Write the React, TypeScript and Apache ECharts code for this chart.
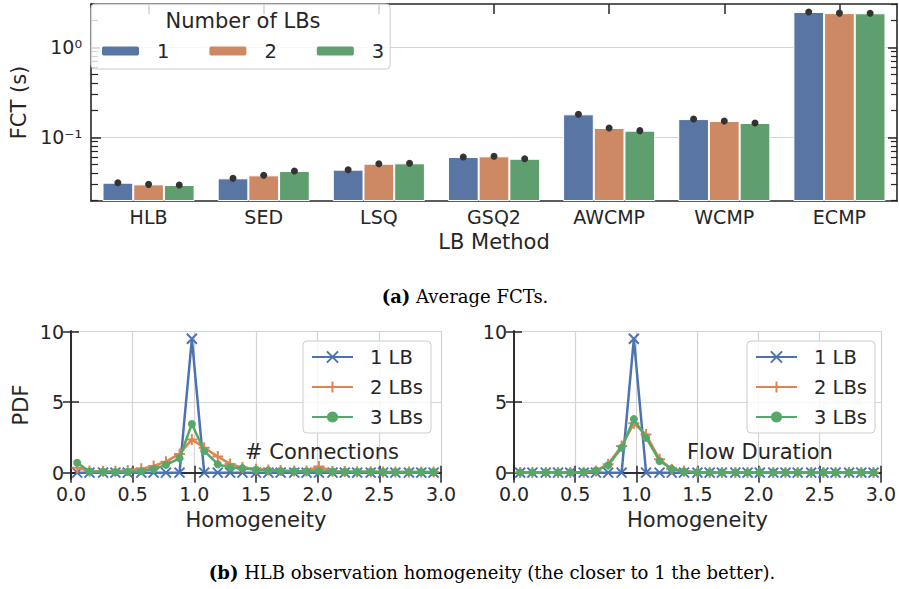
import React, { useEffect, useRef } from 'react';
import * as echarts from 'echarts';

// ---------- Data: (a) Average FCTs ----------
const methods = ['HLB', 'SED', 'LSQ', 'GSQ2', 'AWCMP', 'WCMP', 'ECMP'];
const lbNames = ['1', '2', '3'];
const fct1 = [0.0313, 0.035, 0.0437, 0.0604, 0.18, 0.1595, 2.47];
const fct2 = [0.03, 0.0378, 0.0509, 0.0615, 0.127, 0.152, 2.4];
const fct3 = [0.0295, 0.0422, 0.0514, 0.0578, 0.1186, 0.1445, 2.39];
const fctMin = 0.0196;
const fctMax = 3.03;
const fctMajorTicks = [0.1, 1];
const fctMinorTicks = [0.02, 0.03, 0.04, 0.05, 0.06, 0.07, 0.08, 0.09, 0.2, 0.3, 0.4, 0.5, 0.6, 0.7, 0.8, 0.9, 2, 3];

// ---------- Data: (b) homogeneity PDFs ----------
const homX = [0.05, 0.15, 0.26, 0.36, 0.46, 0.57, 0.67, 0.77, 0.88, 0.98, 1.08, 1.19, 1.29, 1.39, 1.5,
  1.6, 1.7, 1.81, 1.91, 2.01, 2.12, 2.22, 2.32, 2.43, 2.53, 2.63, 2.74, 2.84, 2.94];
const lineNames = ['1 LB', '2 LBs', '3 LBs'];
const conn1 = [0, 0, 0, 0, 0, 0, 0, 0, 0, 9.5, 0, 0, 0, 0, 0, 0, 0, 0, 0, 0, 0, 0, 0, 0, 0, 0, 0, 0, 0];
const conn2 = [0.35, 0.12, 0.1, 0.1, 0.15, 0.27, 0.47, 0.78, 1.33, 2.36, 1.77, 1.14, 0.62, 0.36, 0.25,
  0.18, 0.15, 0.12, 0.12, 0.43, 0.1, 0.08, 0.07, 0.06, 0.05, 0.05, 0.05, 0.05, 0.05];
const conn3 = [0.7, 0.08, 0.06, 0.05, 0.06, 0.1, 0.25, 0.55, 1.02, 3.45, 1.54, 0.6, 0.36, 0.32, 0.2,
  0.15, 0.12, 0.1, 0.1, 0.1, 0.08, 0.07, 0.06, 0.06, 0.05, 0.05, 0.05, 0.05, 0.05];
const dur1 = [0, 0, 0, 0, 0, 0, 0, 0, 0, 9.5, 0, 0, 0, 0, 0, 0, 0, 0, 0, 0, 0, 0, 0, 0, 0, 0, 0, 0, 0];
const dur2 = [0.02, 0.02, 0.02, 0.02, 0.02, 0.03, 0.12, 0.6, 1.9, 3.5, 2.7, 0.95, 0.25, 0.1, 0.03,
  0.02, 0.02, 0.02, 0.02, 0.02, 0.02, 0.02, 0.02, 0.02, 0.02, 0.02, 0.02, 0.02, 0.02];
const dur3 = [0.02, 0.02, 0.02, 0.02, 0.02, 0.05, 0.15, 0.53, 1.77, 3.8, 2.48, 0.83, 0.27, 0.08, 0.03,
  0.02, 0.02, 0.02, 0.02, 0.02, 0.02, 0.02, 0.02, 0.02, 0.02, 0.02, 0.02, 0.02, 0.02];
const homMin = -0.45;
const homMax = 10.05;
const pdfTicks = [0, 5, 10];

const INK = '#262626';
const GRID = '#d4d4d4';
const FONT = 'DejaVu Sans';
const barColors = ['#5975A4', '#CC8963', '#5F9E6E'];
const lineColors = ['#4C72B0', '#DD8452', '#55A868'];
const lineSymbols = ['path://M0,0L10,10M10,0L0,10', 'path://M5,0L5,10M0,5L10,5', 'circle'];
const lineSymbolSizes = [10, 11, 8];

const SUP: Record<string, string> = { '-': '⁻', '0': '⁰', '1': '¹', '2': '²', '3': '³' };
const sup = (n: number) => String(n).split('').map((c) => SUP[c] || c).join('');

export default function App() {
  const ref = useRef<HTMLDivElement>(null);
  useEffect(() => {
    if (!ref.current) return;
    const chart = echarts.init(ref.current, null, { renderer: 'svg' });

    const frameLine = { show: true, lineStyle: { color: INK, width: 1.6 } };
    const tickLabel = { color: INK, fontSize: 19, fontFamily: FONT };

    const homXAxes = (grid: number) => [
      {
        type: 'value', gridIndex: grid, position: 'bottom', min: 0, max: 3, interval: 0.5,
        axisLine: frameLine,
        axisTick: { show: true, inside: true, length: 7, lineStyle: { color: INK, width: 1.5 } },
        axisLabel: { ...tickLabel, margin: 5, formatter: (v: number) => v.toFixed(1) },
        splitLine: { show: true, lineStyle: { color: GRID, width: 1.2 } },
        name: 'Homogeneity', nameLocation: 'middle', nameGap: 30,
        nameTextStyle: { color: INK, fontSize: 21, fontFamily: FONT },
      },
      {
        type: 'value', gridIndex: grid, position: 'top', min: 0, max: 3, interval: 0.5,
        axisLine: frameLine,
        axisTick: { show: true, inside: true, length: 10, lineStyle: { color: INK, width: 1.5 } },
        axisLabel: { show: false }, splitLine: { show: false },
      },
    ];
    const homYAxes = (grid: number, withName: boolean) => [
      {
        type: 'value', gridIndex: grid, position: 'left', min: homMin, max: homMax,
        axisLine: frameLine,
        axisTick: { show: true, inside: true, length: 8, customValues: pdfTicks, lineStyle: { color: INK, width: 1.5 } },
        axisLabel: { ...tickLabel, margin: 7, customValues: pdfTicks },
        splitLine: { show: true, lineStyle: { color: GRID, width: 1.2 } },
        name: withName ? 'PDF' : '', nameLocation: 'middle', nameGap: 40,
        nameTextStyle: { color: INK, fontSize: 21, fontFamily: FONT },
      },
      {
        type: 'value', gridIndex: grid, position: 'right', min: homMin, max: homMax,
        axisLine: frameLine,
        axisTick: { show: true, inside: true, length: 8, customValues: pdfTicks, lineStyle: { color: INK, width: 1.5 } },
        axisLabel: { show: false }, splitLine: { show: false },
      },
    ];

    const barSeries = [fct1, fct2, fct3].map((vals, s) => ({
      type: 'bar', name: lbNames[s], xAxisIndex: 0, yAxisIndex: 0,
      data: vals, barGap: '0%', barCategoryGap: '20%',
      itemStyle: { color: barColors[s], borderColor: '#ffffff', borderWidth: 1 },
      markPoint: {
        symbol: 'circle', symbolSize: 7, silent: true,
        itemStyle: { color: '#333333' }, label: { show: false },
        data: vals.map((v, i) => ({ coord: [methods[i], v] })),
      },
    }));

    const lineSeries = (xIdx: number, yIdx: number, sets: number[][]) =>
      sets.map((vals, s) => ({
        type: 'line', name: lineNames[s], xAxisIndex: xIdx, yAxisIndex: yIdx,
        data: homX.map((x, i) => [x, vals[i]]),
        symbol: lineSymbols[s], symbolSize: lineSymbolSizes[s], showAllSymbol: true,
        lineStyle: { color: lineColors[s], width: 2.5 },
        itemStyle: { color: lineColors[s], borderColor: lineColors[s], borderWidth: s === 2 ? 0 : 2 },
        z: 3 + s,
      }));

    const lineLegend = (left: number) => ({
      data: lineNames, orient: 'vertical', left, top: 341,
      itemWidth: 41, itemHeight: 14, itemGap: 10,
      padding: [6, 8, 6, 8],
      backgroundColor: 'rgba(255,255,255,0.8)', borderColor: '#cccccc', borderWidth: 1, borderRadius: 4,
      textStyle: { color: INK, fontSize: 19.5, fontFamily: FONT, padding: [0, 0, 0, 12] },
      selectedMode: false,
    });

    const option: any = {
      animation: false,
      textStyle: { fontFamily: FONT },
      grid: [
        { left: 91, top: 4, width: 806, height: 197 },
        { left: 71, top: 331, width: 370, height: 148 },
        { left: 514, top: 331, width: 369, height: 148 },
      ],
      xAxis: [
        {
          type: 'category', gridIndex: 0, position: 'bottom', data: methods,
          axisLine: frameLine, axisTick: { show: false },
          axisLabel: { ...tickLabel, margin: 6 },
          name: 'LB Method', nameLocation: 'middle', nameGap: 30,
          nameTextStyle: { color: INK, fontSize: 21, fontFamily: FONT },
        },
        {
          type: 'category', gridIndex: 0, position: 'top', data: methods,
          axisLine: frameLine,
          axisTick: { show: true, inside: true, alignWithLabel: true, length: 10, lineStyle: { color: INK, width: 1.5 } },
          axisLabel: { show: false },
        },
        ...homXAxes(1),
        ...homXAxes(2),
      ],
      yAxis: [
        {
          type: 'log', gridIndex: 0, position: 'left', min: fctMin, max: fctMax, startValue: fctMin,
          axisLine: frameLine,
          axisTick: { show: true, inside: true, length: 10, customValues: fctMajorTicks, lineStyle: { color: INK, width: 1.5 } },
          axisLabel: { ...tickLabel, margin: 9, customValues: fctMajorTicks, formatter: (v: number) => '10' + sup(Math.round(Math.log10(v))) },
          splitLine: { show: true, lineStyle: { color: GRID, width: 1.2 } },
          minorTick: { show: false },
          name: 'FCT (s)', nameLocation: 'middle', nameGap: 60,
          nameTextStyle: { color: INK, fontSize: 21, fontFamily: FONT },
        },
        {
          type: 'log', gridIndex: 0, position: 'left', min: fctMin, max: fctMax,
          axisLine: { show: false },
          axisTick: { show: true, inside: true, length: 7, customValues: fctMinorTicks, lineStyle: { color: INK, width: 1.2 } },
          axisLabel: { show: false }, splitLine: { show: false },
        },
        {
          type: 'log', gridIndex: 0, position: 'right', min: fctMin, max: fctMax,
          axisLine: frameLine,
          axisTick: { show: true, inside: true, length: 9, customValues: fctMajorTicks, lineStyle: { color: INK, width: 1.5 } },
          axisLabel: { show: false }, splitLine: { show: false },
        },
        {
          type: 'log', gridIndex: 0, position: 'right', min: fctMin, max: fctMax,
          axisLine: { show: false },
          axisTick: { show: true, inside: true, length: 6, customValues: fctMinorTicks, lineStyle: { color: INK, width: 1.2 } },
          axisLabel: { show: false }, splitLine: { show: false },
        },
        ...homYAxes(1, true),
        ...homYAxes(2, false),
      ],
      legend: [
        {
          data: lbNames, orient: 'horizontal', left: 91, top: 4,
          itemWidth: 39, itemHeight: 11, itemGap: 38,
          padding: [37, 6, 8, 9],
          backgroundColor: 'rgba(255,255,255,0.8)', borderColor: '#cccccc', borderWidth: 1, borderRadius: 4,
          textStyle: { color: INK, fontSize: 19.5, fontFamily: FONT, padding: [0, 0, 0, 12] },
          selectedMode: false,
        },
        lineLegend(303),
        lineLegend(747),
      ],
      graphic: [
        {
          type: 'text', x: 243, y: 21, z: 100,
          style: { text: 'Number of LBs', fill: INK, fontSize: 21, fontFamily: FONT, textAlign: 'center', textVerticalAlign: 'middle' },
        },
        {
          type: 'text', x: 245, y: 452, z: 100,
          style: { text: '# Connections', fill: INK, fontSize: 21, fontFamily: FONT, textAlign: 'left', textVerticalAlign: 'middle' },
        },
        {
          type: 'text', x: 687, y: 452, z: 100,
          style: { text: 'Flow Duration', fill: INK, fontSize: 21, fontFamily: FONT, textAlign: 'left', textVerticalAlign: 'middle' },
        },
        {
          type: 'text', x: 465, y: 296, z: 100,
          style: {
            text: '{b|(a)} Average FCTs.', fill: '#000', fontSize: 18, fontFamily: 'DejaVu Serif',
            textAlign: 'center', textVerticalAlign: 'middle',
            rich: { b: { fontWeight: 'bold', fontSize: 18, fontFamily: 'DejaVu Serif', fill: '#000' } },
          },
        },
        {
          type: 'text', x: 492, y: 572, z: 100,
          style: {
            text: '{b|(b)} HLB observation homogeneity (the closer to 1 the better).', fill: '#000', fontSize: 18, fontFamily: 'DejaVu Serif',
            textAlign: 'center', textVerticalAlign: 'middle',
            rich: { b: { fontWeight: 'bold', fontSize: 18, fontFamily: 'DejaVu Serif', fill: '#000' } },
          },
        },
      ],
      series: [
        ...barSeries,
        ...lineSeries(2, 4, [conn1, conn2, conn3]),
        ...lineSeries(4, 6, [dur1, dur2, dur3]),
      ],
    };

    chart.setOption(option);
    return () => chart.dispose();
  }, []);

  return <div ref={ref} style={{ position: 'fixed', left: 0, top: 0, width: 899, height: 589, background: '#fff' }} />;
}
